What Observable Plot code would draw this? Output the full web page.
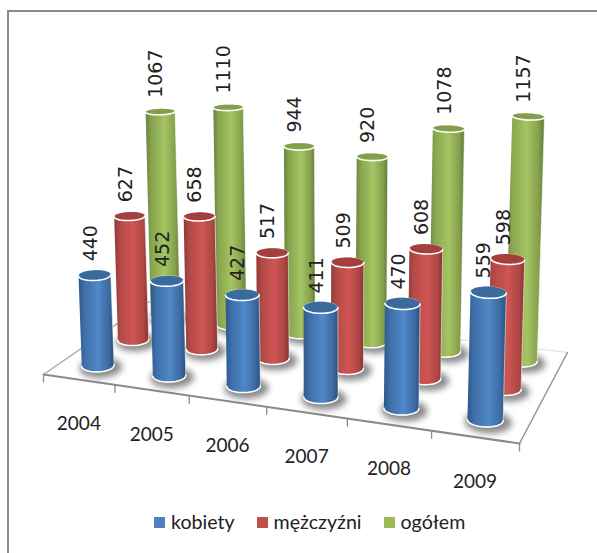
<!DOCTYPE html>
<html><head><meta charset="utf-8">
<script src="https://cdn.jsdelivr.net/npm/d3@7"></script>
<script src="https://cdn.jsdelivr.net/npm/@observablehq/plot@0.6"></script>
<style>
html,body{margin:0;padding:0;background:#fff}
#page{position:relative;width:597px;height:553px;overflow:hidden}
#frame{position:absolute;left:7px;top:10px;right:0;bottom:0;border-left:2px solid #8c8c8c;border-top:2px solid #8c8c8c}
#chart{position:absolute;left:0;top:0}
#legend{position:absolute;left:154px;top:508px;display:flex;align-items:center;font:19.6px Lato,sans-serif;color:#222;line-height:28px}
#legend span.k{display:inline-block;width:11px;height:11px;margin-right:6px}
#legend span.t{margin-right:22px}
</style></head><body>
<div id="page"><div id="frame"></div><div id="chart"></div><div id="legend"></div></div>
<script>
const years = [2004, 2005, 2006, 2007, 2008, 2009];
const kobiety = [440, 452, 427, 411, 470, 559];
const mezczyzni = [627, 658, 517, 509, 608, 598];
const ogolem = [1067, 1110, 944, 920, 1078, 1157];
const seriesNames = ["kobiety", "mężczyźni", "ogółem"];
const seriesColors = ["#4f81bd", "#c0504d", "#9bbb59"];

// floor plate corners on the page
const plate = [[43,374],[519,443],[567,352],[148.5,301.3]];
const [[x0,y0],[x1,y1],[x2,y2],[x3,y3]] = plate;
const dx1=x1-x2, dx2=x3-x2, sx=x0-x1+x2-x3, dy1=y1-y2, dy2=y3-y2, sy=y0-y1+y2-y3;
const den=dx1*dy2-dx2*dy1;
const G=(sx*dy2-dx2*sy)/den, H=(dx1*sy-sx*dy1)/den;
const A=x1-x0+G*x1, B=x3-x0+H*x3, D=y1-y0+G*y1, E=y3-y0+H*y3;
function floor(u,v){
  const s=u/6, t=v/3, w=G*s+H*t+1;
  return {x:(A*s+B*t+x0)/w, y:(D*s+E*t+y0)/w, w};
}
const K0=0.205, KP=4e-5, R0=16.4, VX=330, VY=6800;
function lift(b,val){
  const h=K0*val/(b.w*(1-val*KP));
  return {x:b.x+(b.x-VX)/(VY-b.y)*h, y:b.y-h};
}
function ellipsePts(c,rx,from,to,n){
  const ratio=Math.min(0.38,0.2+(c.y-110)*0.0007), tilt=(c.x-300)/300*0.06;
  const out=[];
  for(let i=0;i<=n;i++){
    const a=from+(to-from)*i/n, ex=rx*Math.cos(a), ey=rx*ratio*Math.sin(a);
    out.push({x:c.x+ex*Math.cos(tilt)-ey*Math.sin(tilt), y:c.y+ex*Math.sin(tilt)+ey*Math.cos(tilt)});
  }
  return out;
}
const seriesValues=[kobiety,mezczyzni,ogolem];
const cyl=[];
[2,1,0].forEach(s=>years.forEach((yr,i)=>{
  const b=floor(i+0.5,s+0.5), t=lift(b,seriesValues[s][i]), r=R0/b.w;
  cyl.push({id:s+"-"+i,s,i,yr,val:seriesValues[s][i],b,t,r});
}));
const grad=s=>"url(#cyl"+s+")";
function pts(fn){return cyl.flatMap(c=>fn(c).map(p=>({...p,id:c.id,s:c.s})))}
const bodyOf=c=>[...ellipsePts(c.b,c.r,Math.PI,0,24),...ellipsePts(c.t,c.r,0,-Math.PI,24)];
const capOf=c=>ellipsePts(c.t,c.r,0,2*Math.PI,40);
const capRimOf=c=>ellipsePts(c.t,c.r,0,Math.PI,24);
const baseRimOf=c=>ellipsePts(c.b,c.r,0,Math.PI,24);
const shadowOf=c=>ellipsePts({x:c.b.x+3,y:c.b.y+2},c.r*1.32,0,2*Math.PI,40).map(p=>({x:p.x,y:c.b.y+2+(p.y-c.b.y-2)*1.25}));

const stops=[
 [["0","#2d5a8c"],["18","#3f70aa"],["55","#5088c8"],["85","#3c6aa1"],["100","#28507e"]],
 [["0","#8f3a37"],["18","#b34a47"],["55","#cf5553"],["85","#ad4744"],["100","#843230"]],
 [["0","#6a8240"],["18","#88a74e"],["55","#a5c463"],["85","#84a04c"],["100","#647a3c"]]
];
function defsMark(){
  const d=d3.create("svg:defs");
  stops.forEach((st,s)=>{
    const g=d.append("linearGradient").attr("id","cyl"+s).attr("x1",0).attr("x2",1).attr("y1",0).attr("y2",0);
    st.forEach(([o,c])=>g.append("stop").attr("offset",o+"%").attr("stop-color",c));
  });
  return d.node();
}
const capFill=["#3b6a9c","#a33f3d","#849f4c"];
const seriesLayers=[2,1,0].flatMap(s=>{
  const only=fn=>pts(fn).filter(p=>p.s===s);
  return [
    Plot.line(only(shadowOf),{x:"x",y:"y",z:"id",fill:"#7d7d7d",stroke:"none",fillOpacity:0.9,imageFilter:"blur(3px)"}),
    Plot.line(only(bodyOf),{x:"x",y:"y",z:"id",fill:grad(s),stroke:"#fff",strokeOpacity:0.55,strokeWidth:1}),
    Plot.line(only(baseRimOf),{x:"x",y:"y",z:"id",stroke:"#fff",strokeWidth:1.5}),
    Plot.line(only(capOf),{x:"x",y:"y",z:"id",fill:capFill[s],stroke:"none"}),
    Plot.line(only(capRimOf),{x:"x",y:"y",z:"id",stroke:"#fff",strokeWidth:1.6})
  ];
});

const edgeFront=[0,6].map(u=>floor(u,0));
const edgeLeft=[0,3].map(v=>floor(0,v));
const edgeRight=[0,3].map(v=>floor(6,v));
const edgeBack=[0,6].map(u=>floor(u,3));
const ticks=d3.range(0,7).map(u=>floor(u,0));
const labelPos=cyl.map(c=>({x:c.t.x-4,y:c.t.y-14,val:c.val}));
const yearPos=years.map((yr,i)=>{const f=floor(i+0.5,0);return {yr,x:f.x,y:f.y+44.5}});

const W=597,Ht=505;
const plot=Plot.plot({
  width:W,height:Ht,margin:0,
  style:{background:"transparent"},
  x:{domain:[0,W],range:[0,W],axis:null},
  y:{domain:[0,Ht],range:[0,Ht],axis:null},
  marks:[
    defsMark,
    Plot.line(edgeBack,{x:"x",y:"y",stroke:"#dddddd",strokeWidth:1}),
    Plot.line(edgeLeft,{x:"x",y:"y",stroke:"#a8a8a8",strokeWidth:1.5}),
    Plot.line(edgeRight,{x:"x",y:"y",stroke:"#969696",strokeWidth:1.5}),
    Plot.line(edgeFront,{x:"x",y:"y",stroke:"#8a8a8a",strokeWidth:2}),
    Plot.link(ticks,{x1:"x",y1:"y",x2:"x",y2:d=>d.y+8,stroke:"#8a8a8a",strokeWidth:1.3}),
    ...seriesLayers,
    Plot.text(labelPos,{x:"x",y:"y",text:d=>String(d.val),rotate:-90,textAnchor:"start",lineAnchor:"middle",fontFamily:"DejaVu Sans",fontSize:19,fill:"#222"}),
    Plot.text(yearPos,{x:"x",y:"y",text:d=>String(d.yr),fontFamily:"Lato",fontSize:19,fill:"#222"})
  ]
});
document.getElementById("chart").append(plot);
const lg=document.getElementById("legend");
seriesNames.forEach((n,i)=>{
  const k=document.createElement("span");k.className="k";k.style.background=seriesColors[i];
  const t=document.createElement("span");t.className="t";t.textContent=n;
  lg.append(k,t);
});
</script>
</body></html>
